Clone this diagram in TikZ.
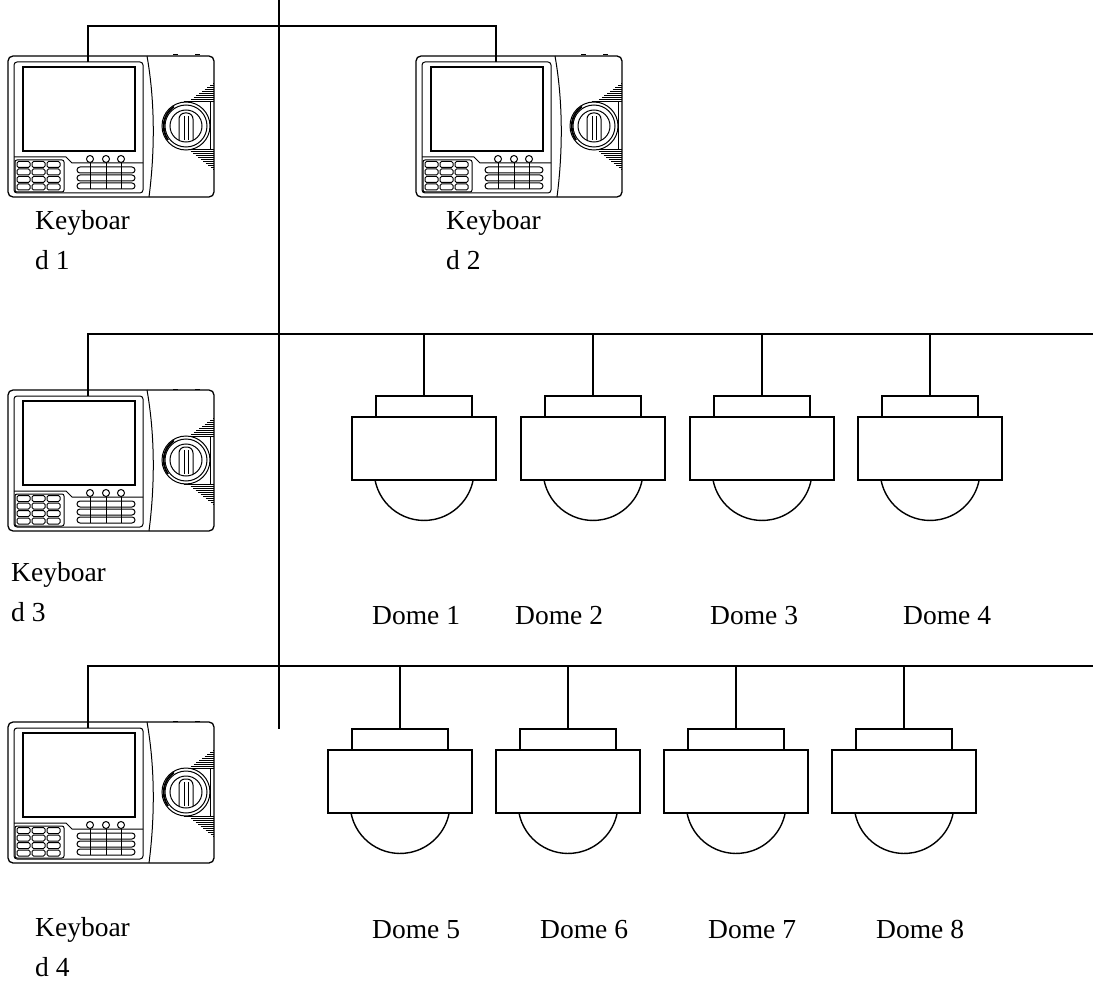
\documentclass[tikz,border=0pt]{standalone}
\usepackage{fontspec}
\setmainfont{Liberation Serif}
\usetikzlibrary{positioning}

\tikzset{
    keyboard/.pic={
        \begin{scope}[line width=1pt]
        \draw[line width=1.3pt,rounded corners=5pt] (0,0) rectangle (206,141);
        \draw[rounded corners=3pt] (6,6) rectangle (135,137);
        \draw[line width=1.2pt] (15,11) rectangle (127,95);
        \draw (139,0) .. controls (147,45) and (147,95) .. (141,141);
        \draw (6,101) -- (58,101) -- (64,107) -- (135,107);
        \draw[rounded corners=2pt] (7,104) rectangle (56,136);
        \foreach \c in {0,1,2}
            \foreach \r in {0,1,2,3}
                \draw[rounded corners=1.5pt] ({9+\c*15},{105.5+\r*7.5}) rectangle ++(13,6);
        \foreach \r in {0,1,2}
            \draw[rounded corners=3pt] (69,{111+\r*8}) rectangle (127,{117+\r*8});
        \foreach \x in {82,98,113} {
            \draw (\x,104) -- (\x,133);
            \draw[fill=white] (\x,103) circle[radius=3.5];
        }
        % knob bay and vents
        \draw (176,46) -- (202,46) -- (202,94) -- (176,94);
        \foreach \y in {28,30,...,46}
            \draw ({205-(\y-28)*25/18},\y) -- (206,\y);
        \foreach \y in {94,96,...,114}
            \draw ({180+(\y-94)*25/20},\y) -- (206,\y);
        \draw[fill=white] (178,70) circle[radius=24];
        \draw[line width=1.8pt] (160,84) arc[start angle=145, end angle=235, radius=24];
        \draw (178,70) circle[radius=21];
        \draw (178,70) circle[radius=16];
        \draw[rounded corners=6pt] (171,84) -- (171,57) -- (185,57) -- (185,84);
        \draw (176,60) -- (176,84) (180,60) -- (180,84);
        \draw (165,-1) -- (170,-1) (187,-1) -- (192,-1);
        \end{scope}
        \coordinate (-top) at (80,6);
    },
    dome/.pic={
        \draw (-48,0) rectangle (48,21);
        \draw (-72,21) rectangle (72,84);
        \draw (-49,84) arc[start angle=169, end angle=11, radius=50];
        \coordinate (-top) at (0,0);
    }
}

\begin{document}
\begin{tikzpicture}[x=1pt,y=-1pt,font=\fontsize{27.5}{40}\selectfont]
    \tikzstyle{bus}=[line width=1.4pt]
    \tikzstyle{cam}=[line width=1.4pt]
    \tikzstyle{kbname}=[inner sep=0pt, align=left, anchor=north west]
    \tikzstyle{domename}=[inner sep=0pt, anchor=base west]
    \useasboundingbox (0,0) rectangle (1093,987);

    % trunk and bus ends
    \coordinate (hub) at (279,0);
    \coordinate (trunkend) at (279,729);
    \coordinate (bus1) at (279,26);
    \coordinate (bus2end) at (1093,334);
    \coordinate (bus3end) at (1093,666);

    % keyboards
    \pic (kb1) at (8,56) {keyboard};
    \pic (kb2) at (416,56) {keyboard};
    \pic (kb3) at (8,390) {keyboard};
    \pic (kb4) at (8,722) {keyboard};

    % domes
    \pic[cam] (dome1) at (424,396) {dome};
    \pic[cam] (dome2) at (593,396) {dome};
    \pic[cam] (dome3) at (762,396) {dome};
    \pic[cam] (dome4) at (930,396) {dome};
    \pic[cam] (dome5) at (400,729) {dome};
    \pic[cam] (dome6) at (568,729) {dome};
    \pic[cam] (dome7) at (736,729) {dome};
    \pic[cam] (dome8) at (904,729) {dome};

    % wiring
    \draw[bus] (hub) -- (trunkend);
    \draw[bus] (kb1-top) |- (bus1) -| (kb2-top);
    \draw[bus] (kb3-top) |- (bus2end);
    \draw[bus] (kb4-top) |- (bus3end);
    \foreach \i in {1,...,4}
        \draw[bus] (dome\i-top) -- (dome\i-top |- bus2end);
    \foreach \i in {5,...,8}
        \draw[bus] (dome\i-top) -- (dome\i-top |- bus3end);

    % names
    \node[kbname] (kb1name) at (35,210) {Keyboar\\d 1};
    \node[kbname] (kb2name) at (446,210) {Keyboar\\d 2};
    \node[kbname] (kb3name) at (11,562) {Keyboar\\d 3};
    \node[kbname] (kb4name) at (35,917) {Keyboar\\d 4};
    \node[domename] (dome1name) at (372,624) {Dome 1};
    \node[domename] (dome2name) at (515,624) {Dome 2};
    \node[domename] (dome3name) at (710,624) {Dome 3};
    \node[domename] (dome4name) at (903,624) {Dome 4};
    \node[domename] (dome5name) at (372,938) {Dome 5};
    \node[domename] (dome6name) at (540,938) {Dome 6};
    \node[domename] (dome7name) at (708,938) {Dome 7};
    \node[domename] (dome8name) at (876,938) {Dome 8};
\end{tikzpicture}
\end{document}
